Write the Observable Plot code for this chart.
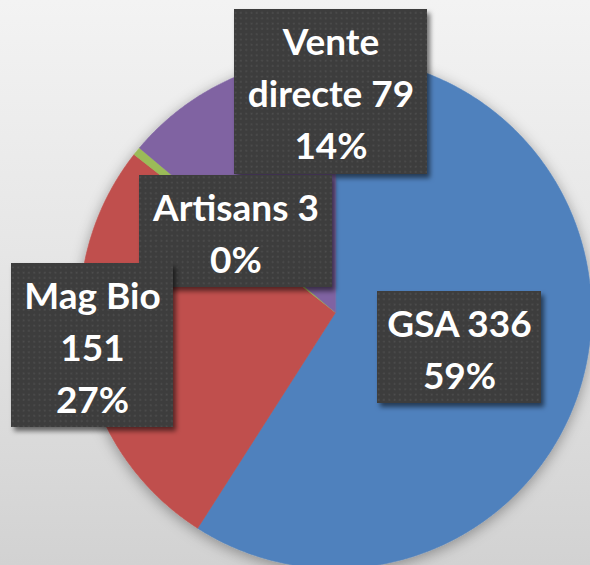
<!DOCTYPE html>
<html><head><meta charset="utf-8">
<script src="https://cdn.jsdelivr.net/npm/d3@7"></script>
<script src="https://cdn.jsdelivr.net/npm/@observablehq/plot@0.6"></script>
<style>
html,body{margin:0;padding:0;background:#e0e0e0;}
#chart{width:590px;height:565px;overflow:hidden;background:linear-gradient(to bottom,#f3f3f3 0%,#e6e6e6 45%,#d2d2d2 100%);}
</style>
</head><body><div id="chart"></div>
<script>
// ---- data ----
const categories = ["GSA", "Mag Bio", "Artisans", "Vente directe"];
const values = [336, 151, 3, 79];
const labelTexts = ["GSA 336\n59%", "Mag Bio\n151\n27%", "Artisans 3\n0%", "Vente\ndirecte 79\n14%"];
const colors = ["#4F81BD", "#C0504D", "#9BBB59", "#8064A2"];

// ---- layout (pixels) ----
const W = 590, H = 565, CX = 335, CY = 312, R = 256;
const boxLayout = {
  "GSA": [377, 291, 541, 403],
  "Mag Bio": [11, 263, 173, 427],
  "Artisans": [139, 175, 332, 287],
  "Vente directe": [234, 9, 427, 174]
};
const boxOrder = ["Vente directe", "Artisans", "Mag Bio", "GSA"];
const textTopPad = 8.5;

const ux = px => (px - CX) / R;
const uy = py => (CY - py) / R;

// pie geometry from values
const arcs = d3.pie().sort(null).value(d => d)(values);
const slicePts = [];
arcs.forEach((a, i) => {
  const n = Math.max(2, Math.ceil((a.endAngle - a.startAngle) / (Math.PI / 360)));
  slicePts.push({cat: categories[i], u: 0, v: 0});
  for (let k = 0; k <= n; k++) {
    const t = a.startAngle + (a.endAngle - a.startAngle) * k / n;
    slicePts.push({cat: categories[i], u: Math.sin(t), v: Math.cos(t)});
  }
});

const boxes = boxOrder.map(c => {
  const [l, t, r, b] = boxLayout[c];
  return {cat: c, x1: ux(l), x2: ux(r), y1: uy(t), y2: uy(b)};
});
const labels = categories.map((c, i) => {
  const [l, t, r, b] = boxLayout[c];
  return {cat: c, text: labelTexts[i], x: ux((l + r) / 2), y: uy(t + textTopPad)};
});

const chart = Plot.plot({
  width: W, height: H, margin: 0,
  style: {background: "transparent", overflow: "hidden"},
  x: {domain: [-1, 1], range: [CX - R, CX + R], axis: null},
  y: {domain: [-1, 1], range: [CY + R, CY - R], axis: null},
  color: {domain: categories, range: colors},
  marks: [
    Plot.line(slicePts, {x: "u", y: "v", z: "cat", fill: "cat", stroke: "cat", strokeWidth: 0.6, curve: "linear-closed"}),
    Plot.rect(boxes, {x1: "x1", x2: "x2", y1: "y1", y2: "y2", fill: "#3d3d3d"}),
    Plot.text(labels, {x: "x", y: "y", text: "text", lineAnchor: "top", lineHeight: 1.41, fontSize: 37, fontWeight: "bold", fill: "white", fontFamily: "Lato, 'Open Sans', sans-serif"})
  ]
});
document.getElementById("chart").appendChild(chart);

// decorations: dotted fill, shadows
const svg = d3.select(chart);
const defs = svg.insert("defs", ":first-child");
const pat = defs.append("pattern").attr("id", "dots").attr("patternUnits", "userSpaceOnUse").attr("width", 5.3).attr("height", 5.3);
pat.append("rect").attr("width", 5.3).attr("height", 5.3).attr("fill", "#3d3d3d");
pat.append("rect").attr("x", 1.5).attr("y", 1.5).attr("width", 1.7).attr("height", 1.7).attr("fill", "#4e4e4e");
const f1 = defs.append("filter").attr("id", "boxShadow").attr("x", "-20%").attr("y", "-20%").attr("width", "140%").attr("height", "140%");
f1.append("feDropShadow").attr("dx", 3).attr("dy", 4).attr("stdDeviation", 2.5).attr("flood-color", "#000").attr("flood-opacity", 0.55);
const f2 = defs.append("filter").attr("id", "pieShadow").attr("x", "-20%").attr("y", "-20%").attr("width", "140%").attr("height", "140%");
f2.append("feDropShadow").attr("dx", 0).attr("dy", 3).attr("stdDeviation", 7).attr("flood-color", "#000").attr("flood-opacity", 0.35);

svg.selectAll("g[aria-label='line']").attr("filter", "url(#pieShadow)");
svg.selectAll("g[aria-label='rect'] rect").attr("fill", "url(#dots)").attr("filter", "url(#boxShadow)");
</script>
</body></html>
